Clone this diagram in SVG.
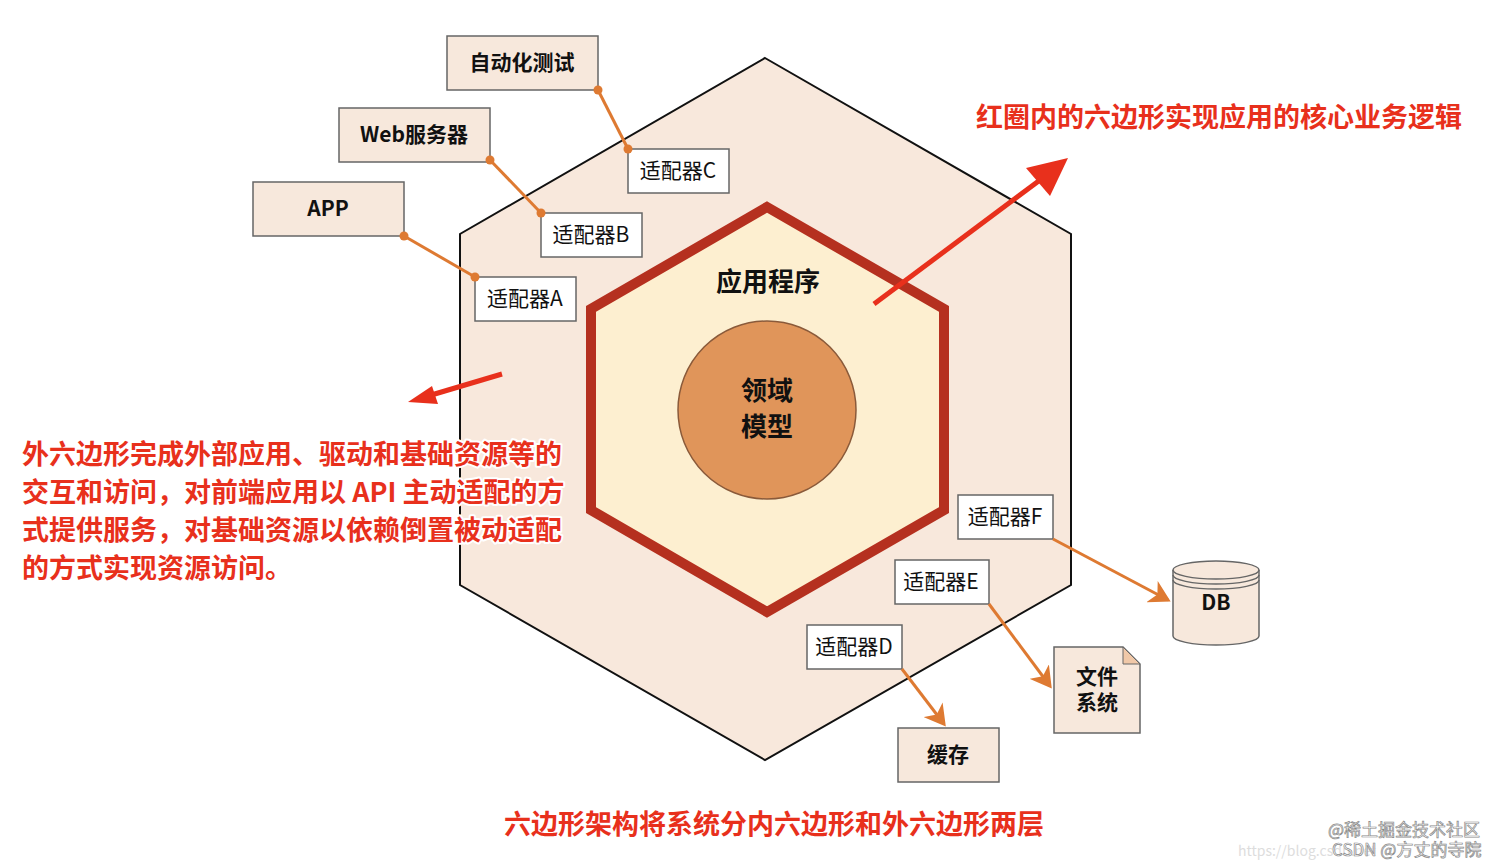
<svg xmlns="http://www.w3.org/2000/svg" width="1512" height="865" viewBox="0 0 1512 865">
<style>
.t{font-family:"Noto Sans CJK SC","Liberation Sans",sans-serif}
.box{fill:#f7e8dc;stroke:#666;stroke-width:1.5}
.ad{fill:#fff;stroke:#666;stroke-width:1.5}
.bt{font-size:21px;font-weight:bold;fill:#111;text-anchor:middle}
.at{font-size:21px;fill:#111;text-anchor:middle}
.rt{font-size:27px;font-weight:bold;fill:#e8301c;stroke:#fff;stroke-width:4;paint-order:stroke;stroke-linejoin:round}
.ln{stroke:#de7a32;stroke-width:3;fill:none}
.dot{fill:#de7a32}
</style>
<defs>
<marker id="ah" markerWidth="8" markerHeight="8" refX="6" refY="4" orient="auto" markerUnits="strokeWidth"><path d="M0,0 L7,4 L0,8 L2,4 z" fill="#de7a32"/></marker>
</defs>
<rect width="1512" height="865" fill="#fff"/>
<g id="outer"><polygon points="765,58 1071,234 1071,585 765,760 460,585 460,234" fill="#f8e8dc" stroke="#111" stroke-width="2"/></g>
<g id="inner"><polygon points="767,207 944,309 944,510 767,612 591,510 591,309" fill="#fdefd0" stroke="#b5301f" stroke-width="10"/>
<text class="t bt" x="768" y="291" style="font-size:26px">应用程序</text></g>
<g id="domain"><circle cx="767" cy="410" r="89" fill="#e0955a" stroke="#8a5a3a" stroke-width="1.5"/>
<text class="t bt" x="767" y="400" style="font-size:26px">领域</text><text class="t bt" x="767" y="436" style="font-size:26px">模型</text></g>
<g id="auto"><rect class="box" x="447" y="36" width="151" height="54"/><text class="t bt" x="522" y="70">自动化测试</text></g>
<g id="web"><rect class="box" x="339" y="108" width="151" height="54"/><text class="t bt" x="414" y="142">Web服务器</text></g>
<g id="app"><rect class="box" x="253" y="182" width="151" height="54"/><text class="t bt" x="328" y="216">APP</text></g>
<g id="adC"><rect class="ad" x="628" y="149" width="101" height="44"/><text class="t at" x="678" y="178">适配器C</text></g>
<g id="adB"><rect class="ad" x="541" y="213" width="101" height="44"/><text class="t at" x="591" y="242">适配器B</text></g>
<g id="adA"><rect class="ad" x="475" y="277" width="101" height="44"/><text class="t at" x="525" y="306">适配器A</text></g>
<g id="adF"><rect class="ad" x="958" y="495" width="95" height="44"/><text class="t at" x="1005" y="524">适配器F</text></g>
<g id="adE"><rect class="ad" x="895" y="560" width="94" height="44"/><text class="t at" x="941" y="589">适配器E</text></g>
<g id="adD"><rect class="ad" x="807" y="625" width="95" height="44"/><text class="t at" x="854" y="654">适配器D</text></g>
<g id="db"><path d="M1173,570 v66 a43,9 0 0 0 86,0 v-66" fill="#f7e8dc" stroke="#666" stroke-width="1.5"/>
<ellipse cx="1216" cy="570" rx="43" ry="9" fill="#f7e8dc" stroke="#666" stroke-width="1.5"/>
<path d="M1173,575 a43,9 0 0 0 86,0 M1173,580 a43,9 0 0 0 86,0" fill="none" stroke="#666" stroke-width="1.5"/>
<text class="t bt" x="1216" y="610">DB</text></g>
<g id="fs"><path d="M1054,647 h69 l17,17 v69 h-86 z" fill="#f7e8dc" stroke="#666" stroke-width="1.5"/><path d="M1123,647 v17 h17 z" fill="#f0c8a8" stroke="#666" stroke-width="1"/>
<text class="t bt" x="1097" y="684">文件</text><text class="t bt" x="1097" y="710">系统</text></g>
<g id="cache"><rect class="box" x="898" y="728" width="101" height="54"/><text class="t bt" x="948" y="762">缓存</text></g>
<g id="connectors">
<path class="ln" d="M598,90 L628,149"/><circle class="dot" cx="598" cy="90" r="4.5"/><circle class="dot" cx="628" cy="149" r="4.5"/>
<path class="ln" d="M490,160 L541,213"/><circle class="dot" cx="490" cy="160" r="4.5"/><circle class="dot" cx="541" cy="213" r="4.5"/>
<path class="ln" d="M404,236 L475,277"/><circle class="dot" cx="404" cy="236" r="4.5"/><circle class="dot" cx="475" cy="277" r="4.5"/>
<path class="ln" d="M1053,539 L1168,600" marker-end="url(#ah)"/>
<path class="ln" d="M989,604 L1050,686" marker-end="url(#ah)"/>
<path class="ln" d="M902,669 L944,724" marker-end="url(#ah)"/>
<path d="M874,304 L1040,180" stroke="#e8301c" stroke-width="5"/><polygon points="1068,158 1026,168 1050,196" fill="#e8301c"/>
<path d="M502,374 L428,396" stroke="#e8301c" stroke-width="5"/><polygon points="408,402 432,386 438,404" fill="#e8301c"/>
</g>
<text class="t rt" x="976" y="127">红圈内的六边形实现应用的核心业务逻辑</text>
<text class="t rt" x="22" y="464">外六边形完成外部应用、驱动和基础资源等的</text>
<text class="t rt" x="22" y="502">交互和访问，对前端应用以 API 主动适配的方</text>
<text class="t rt" x="22" y="540">式提供服务，对基础资源以依赖倒置被动适配</text>
<text class="t rt" x="22" y="578">的方式实现资源访问。</text>
<text class="t rt" x="504" y="834">六边形架构将系统分内六边形和外六边形两层</text>
<text class="t" x="1238" y="856" font-size="14" fill="#ddd">https://blog.csdn.net</text>
<text class="t" x="1328" y="836" font-size="17" fill="#fff" stroke="#888" stroke-width="0.7">@稀土掘金技术社区</text>
<text class="t" x="1332" y="856" font-size="17" fill="#fff" stroke="#888" stroke-width="0.7">CSDN @方丈的寺院</text>
</svg>
